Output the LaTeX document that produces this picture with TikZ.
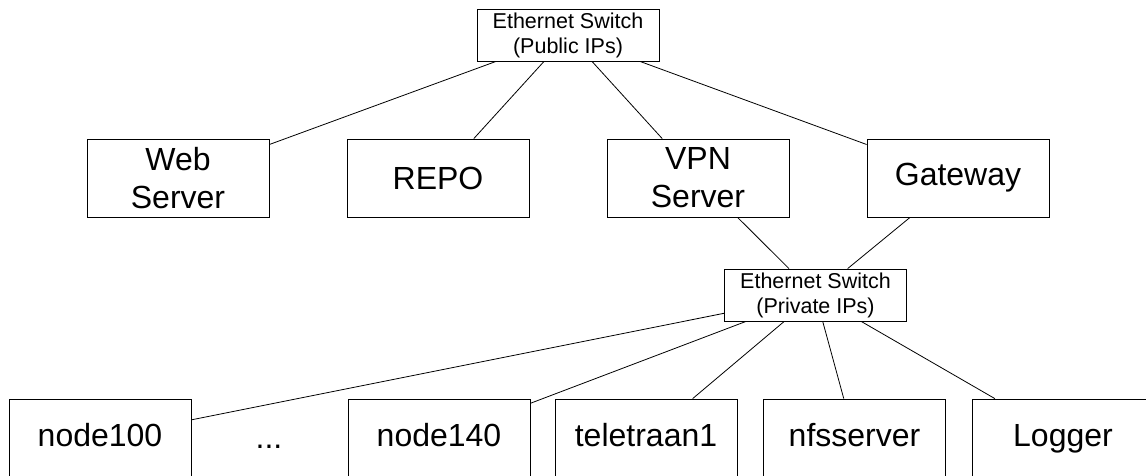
\documentclass[tikz,border=0pt]{standalone}
\usepackage{fontspec}
\setmainfont{Liberation Sans}

\tikzset{
  hostbox/.style={draw, line width=0.8pt, minimum width=182, minimum height=78,
    align=center, font=\fontsize{32}{38}\selectfont},
  switchbox/.style={draw, line width=0.8pt, minimum width=182, minimum height=52,
    inner sep=1pt, align=center, font=\fontsize{21.5}{25}\selectfont},
  link/.style={draw, line width=0.8pt}
}

\begin{document}
\begin{tikzpicture}[x=1pt,y=-1pt]

      \clip (0,0) rectangle (1146,476);
      \fill[white] (0,0) rectangle (1146,476);

      % switches
      \node[switchbox] (pub)  at (568,35)    {Ethernet Switch\\(Public IPs)};
      \node[switchbox] (priv) at (815.5,295) {Ethernet Switch\\(Private IPs)};

      % public side
      \begin{scope}[every node/.style={hostbox}]
        \node (web)  at (178,178) {Web\\Server};
        \node (repo) at (438,178) {REPO};
        \node (vpn)  at (698,178) {VPN\\Server};
        \node (gw)   at (958,178) {Gateway};
      \end{scope}

      % private side
      \begin{scope}[every node/.style={hostbox, text height=23, text depth=7}]
        \node (n100)   at (100,438)   {node100};
        \node (n140)   at (439,438)   {node140};
        \node (tele)   at (646,438)   {teletraan1};
        \node (nfs)    at (854.5,438) {nfsserver};
        \node (logger) at (1063,438)  {Logger};
      \end{scope}
      \node[anchor=base, font=\fontsize{32}{38}\selectfont] (dots) at (269,448) {...};

      \begin{scope}[every path/.style={link}]
        \path (pub)  edge (web);
        \path (pub)  edge (repo);
        \path (pub)  edge (vpn);
        \path (pub)  edge (gw);
        \path (vpn)  edge (priv);
        \path (gw)   edge (priv);
        \path (priv) edge (n100);
        \path (priv) edge (n140);
        \path (priv) edge (tele);
        \path (priv) edge (nfs);
        \path (priv) edge (logger);
      \end{scope}

    \end{tikzpicture}
\end{document}
